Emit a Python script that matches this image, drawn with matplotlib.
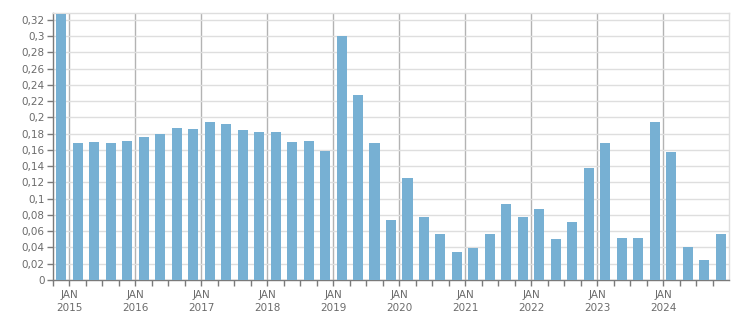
import matplotlib
matplotlib.use("Agg")
import matplotlib.pyplot as plt
from matplotlib.ticker import FixedLocator, FuncFormatter

# Quarterly periods (year, quarter) from Q4 2014 to Q4 2024
years = [2014] + [y for y in range(2015, 2025) for _ in range(4)]
quarters = [4] + [q for _ in range(2015, 2025) for q in range(1, 5)]
values = [0.327,
          0.169, 0.170, 0.168, 0.171,
          0.176, 0.180, 0.187, 0.186,
          0.195, 0.192, 0.185, 0.182,
          0.182, 0.170, 0.171, 0.159,
          0.300, 0.228, 0.169, 0.074,
          0.126, 0.077, 0.057, 0.035,
          0.039, 0.057, 0.093, 0.077,
          0.087, 0.050, 0.071, 0.138,
          0.169, 0.052, 0.052, 0.194,
          0.157, 0.040, 0.025, 0.056]
tick_years = list(range(2015, 2025))
tick_labels = [f"JAN\n{y}" for y in tick_years]

bar_color = "#77b0d3"
label_color = "#6b6b6b"

fig = plt.figure(figsize=(7.51, 3.13), dpi=100)
ax = fig.add_axes([53/751, 33/313, 676/751, 267/313])

xs = [y + (q - 0.5) / 4 for y, q in zip(years, quarters)]
ax.bar(xs, values, width=0.152, color=bar_color, zorder=3)

ax.set_xlim(2014.75, 2025.0)
ax.set_ylim(0, 0.3285)

yt = [i * 0.02 for i in range(17)]
ax.yaxis.set_major_locator(FixedLocator(yt))
def yfmt(v, pos):
    s = f"{v:.2f}".rstrip("0").rstrip(".")
    return s.replace(".", ",")
ax.yaxis.set_major_formatter(FuncFormatter(yfmt))

ax.set_xticks(tick_years)
ax.set_xticklabels(tick_labels)
minor = [y + q / 4 for y in range(2014, 2025) for q in range(1, 4)]
minor = [m for m in minor if 2014.75 <= m <= 2025.0]
ax.set_xticks(minor, minor=True)

ax.grid(axis="y", color="#dedede", linewidth=1.0, zorder=0)
ax.grid(axis="x", which="major", color="#b3b3b3", linewidth=1.0, zorder=0)
ax.set_axisbelow(True)

for s in ["top", "right"]:
    ax.spines[s].set_color("#dedede")
    ax.spines[s].set_linewidth(1.0)
for s in ["left", "bottom"]:
    ax.spines[s].set_color("#7a7a7a")
    ax.spines[s].set_linewidth(1.0)

ax.tick_params(axis="y", which="major", length=4, width=1, color="#7a7a7a",
               labelsize=7.5, labelcolor=label_color, pad=2)
ax.tick_params(axis="x", which="major", length=4, width=1, color="#7a7a7a",
               labelsize=7.5, labelcolor=label_color, pad=3)
ax.tick_params(axis="x", which="minor", length=4, width=1, color="#7a7a7a")
for lbl in ax.get_xticklabels():
    lbl.set_linespacing(1.4)

fig.savefig("out.png", dpi=100)
